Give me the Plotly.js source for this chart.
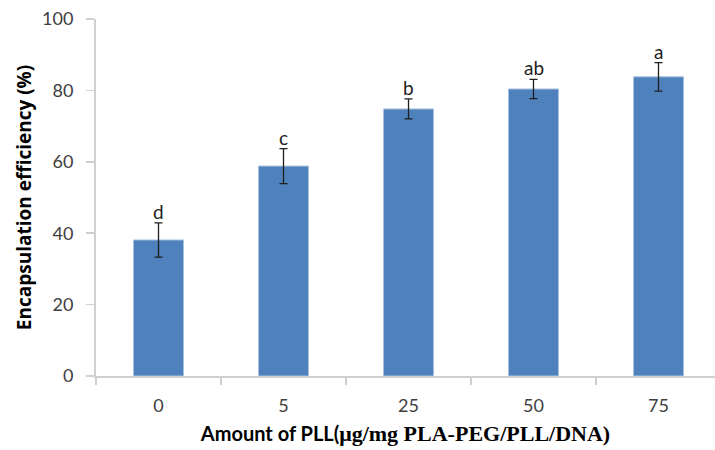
<!DOCTYPE html>
<html>
<head>
<meta charset="utf-8">
<script src="https://cdn.plot.ly/plotly-3.0.1.min.js"></script>
<style>html,body{margin:0;padding:0;overflow:hidden;background:#fff}</style>
</head>
<body>
<div id="chart" style="width:715px;height:450px"></div>
<script>
const categories = ["0", "5", "25", "50", "75"];
const efficiency = [38.1, 58.8, 74.8, 80.4, 83.8];
const errors = [4.8, 4.9, 2.8, 2.7, 4.0];
const letters = ["d", "c", "b", "ab", "a"];

const trace = {
  type: "bar",
  x: categories,
  y: efficiency,
  width: 0.4,
  marker: {color: "#4f81bd", line: {color: "#a9c1e0", width: 1}},
  error_y: {type: "data", array: errors, visible: true, color: "#1e1e1e", thickness: 1.3, width: 4}
};

const annotations = categories.map((c, i) => ({
  x: i, y: efficiency[i] + errors[i], xref: "x", yref: "y",
  text: letters[i], showarrow: false, yanchor: "bottom", yshift: -2,
  font: {family: "Lato, sans-serif", size: 19, color: "#1e1e1e"}
}));

const layout = {
  width: 715, height: 450,
  margin: {l: 96, r: 0, t: 19, b: 74},
  paper_bgcolor: "#fff", plot_bgcolor: "#fff",
  showlegend: false,
  xaxis: {
    type: "category",
    range: [-0.5, 4.452],
    showline: true, linecolor: "#d0d0d0", linewidth: 2,
    ticks: "outside", tickson: "boundaries", ticklen: 7, tickcolor: "#d0d0d0", tickwidth: 1.5,
    showgrid: false, zeroline: false,
    ticklabelstandoff: 12,
    tickfont: {family: "Lato, sans-serif", size: 18, color: "#404040"},
    title: {
      text: "<b>Amount of PLL(</b><span style=\"font-family:'Liberation Serif',serif;font-size:22px\"><b>μg/mg PLA-PEG/PLL/DNA)</b></span>",
      font: {family: "Lato, sans-serif", size: 20, color: "#000"},
      standoff: 12
    }
  },
  yaxis: {
    range: [0, 100], dtick: 20,
    showline: true, linecolor: "#d0d0d0", linewidth: 2,
    ticks: "outside", ticklen: 8, tickcolor: "#d0d0d0", tickwidth: 1.5,
    showgrid: false, zeroline: false,
    ticklabelstandoff: 9,
    tickfont: {family: "Lato, sans-serif", size: 18, color: "#404040"},
    title: {
      text: "<b>Encapsulation efficiency (%)</b>",
      font: {family: "'Open Sans', sans-serif", size: 19, color: "#000"},
      standoff: 5
    }
  },
  annotations: annotations
};

Plotly.newPlot("chart", [trace], layout, {displayModeBar: false, staticPlot: true});
</script>
</body>
</html>
